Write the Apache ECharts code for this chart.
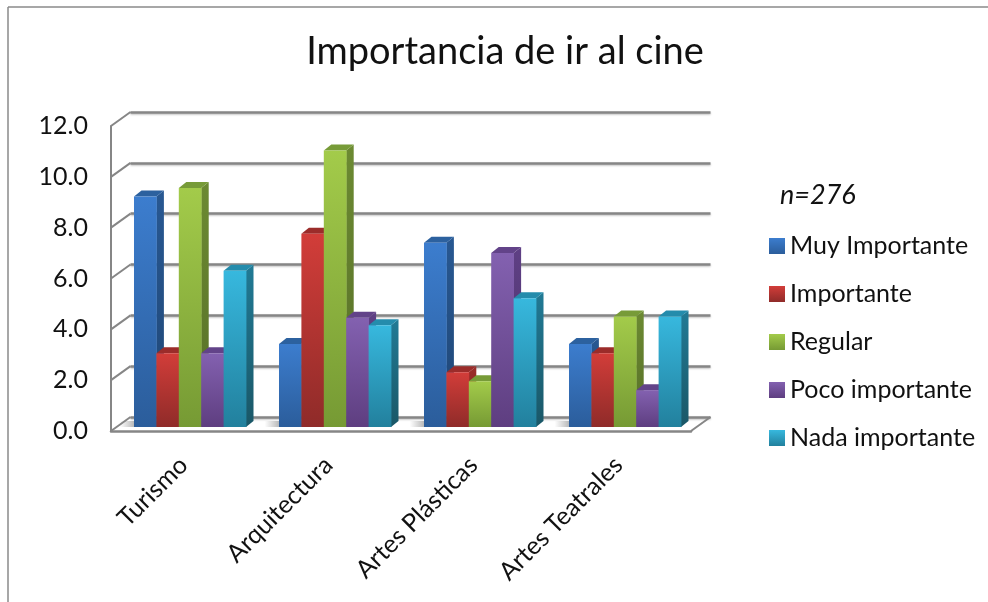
<!DOCTYPE html>
<html><head><meta charset="utf-8">
<style>html,body{margin:0;padding:0;background:#fff}#c{width:988px;height:602px}</style>
<script src="https://cdn.jsdelivr.net/npm/echarts@6/dist/echarts.min.js"></script>
</head><body><div id="c"></div>
<script>
var categories = ['Turismo','Arquitectura','Artes Plásticas','Artes Teatrales'];
var muyImportante = [9.07,3.27,7.25,3.27];
var importante = [2.9,7.6,2.15,2.9];
var regular = [9.4,10.88,1.8,4.35];
var pocoImportante = [2.9,4.3,6.85,1.45];
var nadaImportante = [6.15,4.0,5.07,4.35];
var yTicks = [0,2,4,6,8,10,12];
var seriesNames = ['Muy Importante','Importante','Regular','Poco importante','Nada importante'];
var seriesValues = [muyImportante,importante,regular,pocoImportante,nadaImportante];
var palette = [
 {f:['#3C7DCE','#2B5D9B'],s:['#285892','#1F4675'],t:'#2C619F'},
 {f:['#D23D39','#8F2B29'],s:['#9C2D2A','#7A2220'],t:'#9B2C2A'},
 {f:['#A3CB4A','#769A34'],s:['#6C8A32','#566E27'],t:'#779B38'},
 {f:['#8361B0','#5E3E80'],s:['#5F4085','#4A3168'],t:'#624389'},
 {f:['#37B8DE','#22809D'],s:['#217A95','#1A5767'],t:'#248CAC'}
];
var DX=7.5, DY=6, LIFT=4, WALLX=19.5, WALLY=14, LINE='#868686';
function grad(c){return new echarts.graphic.LinearGradient(0,0,0,1,[{offset:0,color:c[0]},{offset:1,color:c[1]}]);}

function barSeries(name,values,idx){
  var p=palette[idx];
  return {
    name:name,type:'custom',coordinateSystem:'cartesian2d',xAxisIndex:0,yAxisIndex:0,clip:false,z:5+idx,
    itemStyle:{color:grad(p.f)},
    data:values.map(function(v,i){return [i,v];}),
    renderItem:function(params,api){
      var band=api.size([1,0])[0];
      var w=band*0.1545;
      var top=api.coord([api.value(0),api.value(1)]);
      var base=api.coord([api.value(0),0]);
      var x=top[0]-band*0.5+band*0.1586+idx*w;
      var y0=base[1]-LIFT, y1=top[1]-LIFT;
      return {type:'group',children:[
        {type:'polygon',shape:{points:[[x+w,y0],[x+w+DX,y0-DY],[x+w+DX,y1-DY],[x+w,y1]]},style:{fill:grad(p.s)}},
        {type:'polygon',shape:{points:[[x,y1],[x+DX,y1-DY],[x+w+DX,y1-DY],[x+w,y1]]},style:{fill:p.t}},
        {type:'rect',shape:{x:x,y:y1,width:w+0.4,height:y0-y1},style:{fill:grad(p.f)}}
      ]};
    }
  };
}
var wallEdges={
  type:'custom',silent:true,xAxisIndex:0,yAxisIndex:0,clip:false,z:2,
  data:yTicks.map(function(t){return [0,t];}),
  renderItem:function(params,api){
    var y=api.coord([0,api.value(1)])[1], x=params.coordSys.x;
    return {type:'line',shape:{x1:x,y1:y,x2:x+WALLX,y2:y-WALLY},style:{stroke:LINE,lineWidth:2}};
  }
};
var floorEdge={
  type:'custom',silent:true,xAxisIndex:0,yAxisIndex:0,clip:false,z:2,
  data:[[3,0]],
  renderItem:function(params,api){
    var y=api.coord([0,0])[1], x=params.coordSys.x+params.coordSys.width;
    return {type:'line',shape:{x1:x,y1:y,x2:x+WALLX,y2:y-WALLY},style:{stroke:LINE,lineWidth:2}};
  }
};
var floorShadow={
  type:'custom',silent:true,xAxisIndex:0,yAxisIndex:0,clip:false,z:3,
  data:categories.map(function(c,i){return [i,0];}),
  renderItem:function(params,api){
    var band=api.size([1,0])[0], c=api.coord([api.value(0),0]);
    var x=c[0]-band*0.5+band*0.06, w=band*0.88, y=c[1]-10;
    return {type:'rect',shape:{x:x,y:y,width:w,height:6},style:{fill:new echarts.graphic.LinearGradient(0,0,1,0,[
      {offset:0,color:'rgba(120,120,120,0)'},{offset:0.12,color:'rgba(120,120,120,0.55)'},
      {offset:0.88,color:'rgba(120,120,120,0.55)'},{offset:1,color:'rgba(120,120,120,0)'}])}};
  }
};
var font='Lato';
var chart=echarts.init(document.getElementById('c'),null,{renderer:'canvas'});
chart.setOption({
  animation:false,backgroundColor:'#fff',
  title:[
    {text:'Importancia de ir al cine',left:505,top:52,padding:0,textAlign:'center',textVerticalAlign:'middle',
     textStyle:{fontFamily:font,fontSize:38,fontWeight:'normal',color:'#111'}},
    {text:'n=276',left:780,top:195,padding:0,textVerticalAlign:'middle',
     textStyle:{fontFamily:font,fontSize:27,fontStyle:'italic',fontWeight:'normal',color:'#111'}}
  ],
  legend:{orient:'vertical',left:769,top:233,padding:0,itemWidth:16,itemHeight:16,itemGap:22,icon:'rect',
    data:seriesNames,selectedMode:false,
    textStyle:{fontFamily:font,fontSize:25,color:'#111',padding:[0,0,0,0],lineHeight:26}},
  grid:[
    {left:111,top:126,width:580,height:305},
    {left:130.5,top:112,width:580,height:305}
  ],
  xAxis:[
    {type:'category',gridIndex:0,data:categories,boundaryGap:true,
     axisLine:{lineStyle:{color:LINE,width:2.5}},axisTick:{show:false},
     axisLabel:{rotate:45,margin:30,interval:0,fontFamily:font,fontSize:25,color:'#111'}},
    {type:'category',gridIndex:1,data:categories,show:false}
  ],
  yAxis:[
    {type:'value',gridIndex:0,min:0,max:12,interval:2,
     axisLine:{show:true,lineStyle:{color:LINE,width:2}},axisTick:{show:false},splitLine:{show:false},
     axisLabel:{margin:23,fontFamily:font,fontSize:25,color:'#111',formatter:function(v){return v.toFixed(1);}}},
    {type:'value',gridIndex:1,min:0,max:12,interval:2,
     axisLine:{show:false},axisTick:{show:false},axisLabel:{show:false},
     splitLine:{show:true,lineStyle:{color:LINE,width:2.5,shadowColor:'rgba(0,0,0,0.25)',shadowBlur:2,shadowOffsetY:1}}}
  ],
  graphic:[
    {type:'line',shape:{x1:8,y1:7,x2:988,y2:7},style:{stroke:'#8a8a8a',lineWidth:1.5},z:0},
    {type:'line',shape:{x1:8,y1:7,x2:8,y2:602},style:{stroke:'#8a8a8a',lineWidth:1.5},z:0}
  ],
  series:[wallEdges,floorEdge,floorShadow].concat(seriesNames.map(function(n,i){return barSeries(n,seriesValues[i],i);}))
});
</script></body></html>
